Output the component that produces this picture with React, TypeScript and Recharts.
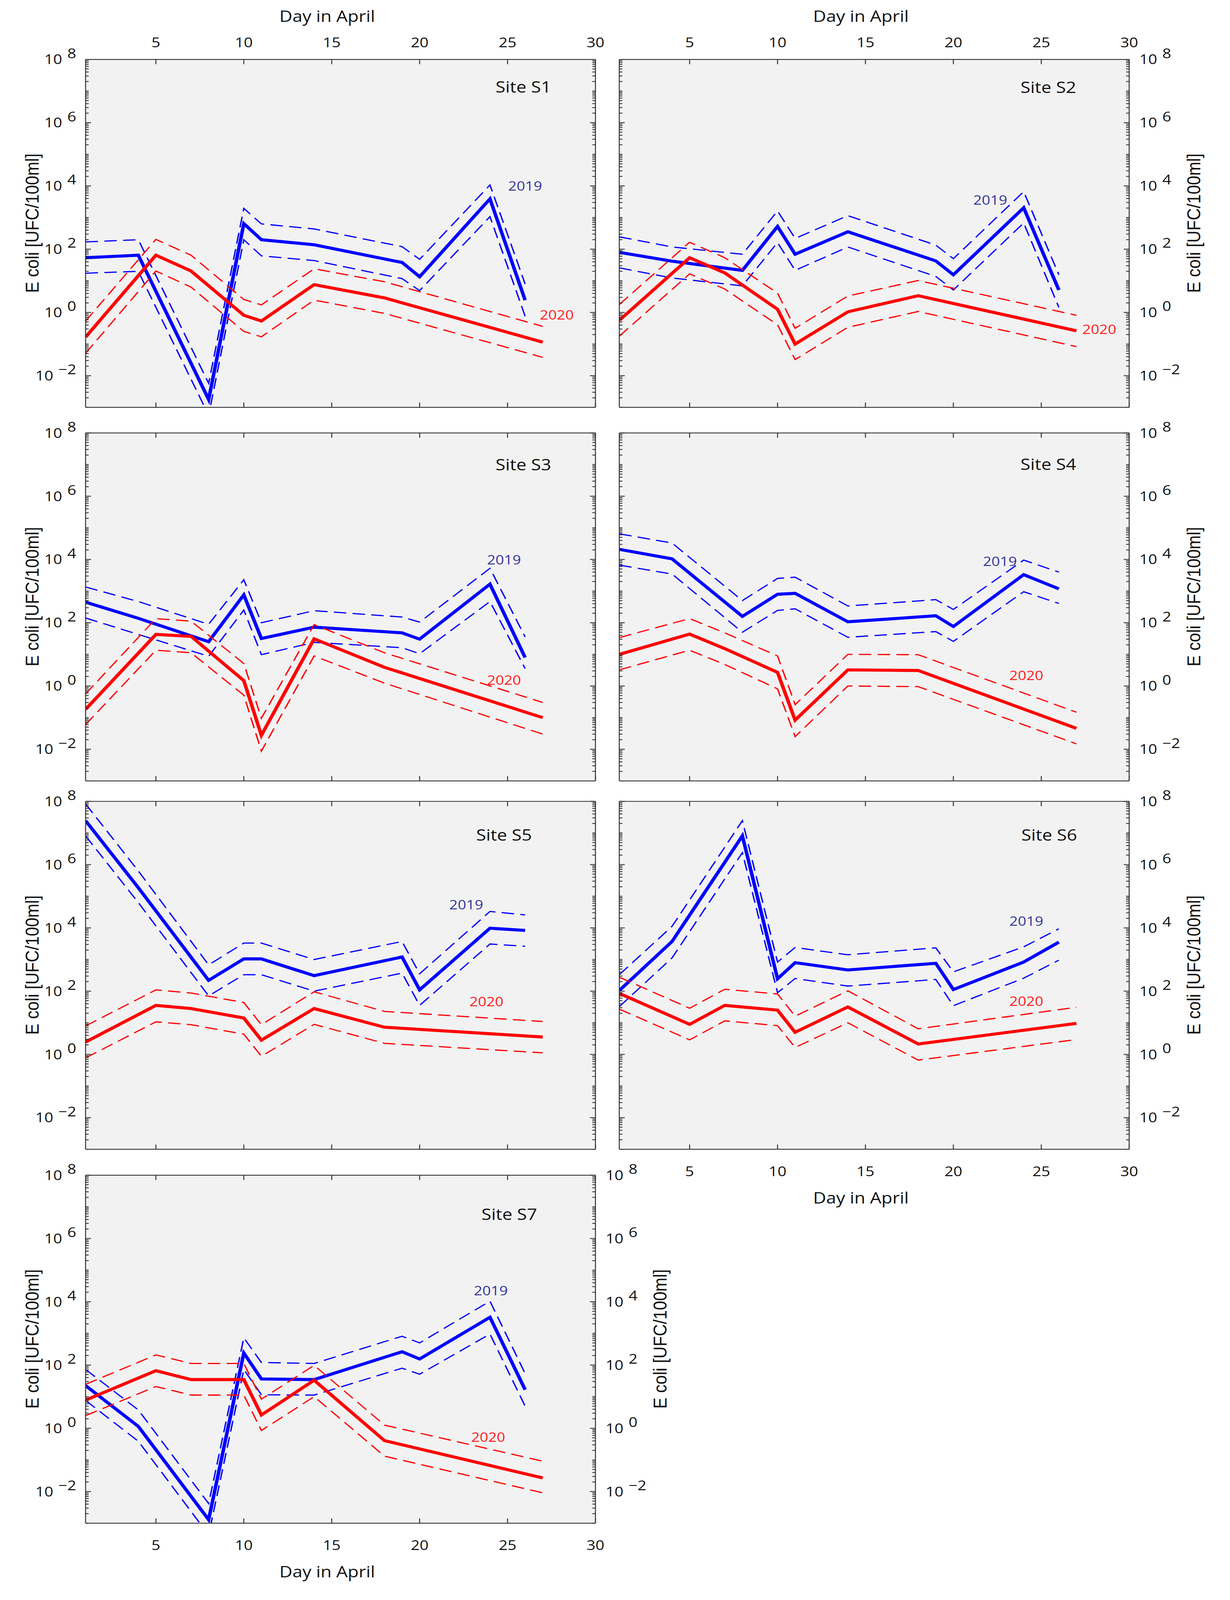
import React from 'react';
import { LineChart, Line, XAxis, YAxis, CartesianGrid, ReferenceDot, Label } from 'recharts';

// ---------- data (values are log10 of E. coli [UFC/100ml]) ----------
const DAYS_2019 = [1, 4, 8, 10, 11, 14, 19, 20, 24, 26];
const DAYS_2020 = [1, 5, 7, 10, 11, 14, 18, 27];

const X_TICKS = [5, 10, 15, 20, 25, 30];
const Y_DECADES = [-3, -2, -1, 0, 1, 2, 3, 4, 5, 6, 7];
const Y_MULTIPLIERS = [1, 2, 3, 4, 5, 6, 7, 8, 9];
const Y_TOP = 1e8;

const S1_2019 = [1.73, 1.81, -2.75, 2.81, 2.3, 2.14, 1.58, 1.13, 3.59, 0.39];
const S1_2019_HI = [2.23, 2.3, -2.24, 3.29, 2.8, 2.64, 2.08, 1.68, 4.03, 0.9];
const S1_2019_LO = [1.24, 1.3, -3.25, 2.3, 1.79, 1.64, 1.07, 0.69, 3.03, -0.12];
const S1_2020 = [-0.78, 1.81, 1.31, -0.09, -0.27, 0.88, 0.46, -0.94];
const S1_2020_HI = [-0.27, 2.31, 1.81, 0.41, 0.24, 1.38, 0.97, -0.44];
const S1_2020_LO = [-1.29, 1.31, 0.8, -0.6, -0.77, 0.39, -0.03, -1.42];

const S2_2019 = [1.9, 1.62, 1.33, 2.72, 1.84, 2.55, 1.63, 1.19, 3.31, 0.71];
const S2_2019_HI = [2.39, 2.07, 1.84, 3.21, 2.34, 3.06, 2.13, 1.7, 3.82, 1.19];
const S2_2019_LO = [1.41, 1.09, 0.84, 2.21, 1.33, 2.07, 1.14, 0.71, 2.83, 0.16];
const S2_2020 = [-0.25, 1.73, 1.25, 0.1, -1.0, 0.02, 0.53, -0.58];
const S2_2020_HI = [0.25, 2.22, 1.73, 0.61, -0.5, 0.52, 1.01, -0.09];
const S2_2020_LO = [-0.75, 1.22, 0.74, -0.39, -1.49, -0.47, 0.03, -1.08];

const S3_2019 = [2.65, 2.14, 1.4, 2.88, 1.5, 1.86, 1.68, 1.48, 3.22, 0.9];
const S3_2019_HI = [3.13, 2.67, 1.95, 3.36, 2.0, 2.38, 2.18, 2.02, 3.72, 1.55];
const S3_2019_LO = [2.15, 1.63, 0.94, 2.4, 0.99, 1.38, 1.21, 1.02, 2.67, 0.55];
const S3_2020 = [-0.74, 1.63, 1.57, 0.17, -1.56, 1.49, 0.59, -1.0];
const S3_2020_HI = [-0.25, 2.13, 2.05, 0.71, -1.02, 1.94, 1.05, -0.52];
const S3_2020_LO = [-1.22, 1.13, 1.05, -0.29, -2.06, 0.95, 0.09, -1.52];

const S4_2019 = [4.32, 4.02, 2.2, 2.9, 2.93, 2.03, 2.22, 1.88, 3.52, 3.07];
const S4_2019_HI = [4.81, 4.52, 2.7, 3.4, 3.44, 2.53, 2.73, 2.42, 3.98, 3.6];
const S4_2019_LO = [3.82, 3.54, 1.7, 2.39, 2.44, 1.54, 1.72, 1.41, 2.98, 2.61];
const S4_2020 = [1.0, 1.64, 1.18, 0.43, -1.08, 0.51, 0.49, -1.34];
const S4_2020_HI = [1.53, 2.13, 1.68, 0.95, -0.59, 1.0, 0.99, -0.83];
const S4_2020_LO = [0.51, 1.13, 0.68, -0.09, -1.6, 0.0, -0.02, -1.83];

const S5_2019 = [7.39, 5.27, 2.34, 3.02, 3.02, 2.49, 3.08, 2.04, 3.99, 3.92];
const S5_2019_HI = [7.92, 5.8, 2.83, 3.52, 3.52, 3.0, 3.57, 2.55, 4.52, 4.41];
const S5_2019_LO = [6.91, 4.8, 1.85, 2.52, 2.52, 2.0, 2.57, 1.55, 3.49, 3.42];
const S5_2020 = [0.39, 1.55, 1.45, 1.15, 0.45, 1.45, 0.86, 0.55];
const S5_2020_HI = [0.9, 2.04, 1.94, 1.64, 0.94, 1.98, 1.36, 1.04];
const S5_2020_LO = [-0.11, 1.03, 0.94, 0.64, -0.06, 0.95, 0.35, 0.05];

const S6_2019 = [2.02, 3.57, 6.91, 2.39, 2.9, 2.67, 2.88, 2.05, 2.92, 3.55];
const S6_2019_HI = [2.52, 4.05, 7.39, 2.92, 3.38, 3.15, 3.37, 2.61, 3.4, 3.97];
const S6_2019_LO = [1.51, 3.05, 6.38, 1.95, 2.4, 2.16, 2.37, 1.54, 2.41, 2.98];
const S6_2020 = [1.93, 0.95, 1.55, 1.4, 0.7, 1.5, 0.33, 0.98];
const S6_2020_HI = [2.44, 1.46, 2.06, 1.91, 1.21, 2.01, 0.81, 1.49];
const S6_2020_LO = [1.43, 0.46, 1.06, 0.91, 0.22, 1.0, -0.18, 0.47];

const S7_2019 = [1.35, 0.06, -2.89, 2.38, 1.56, 1.54, 2.42, 2.19, 3.51, 1.22];
const S7_2019_HI = [1.86, 0.58, -2.38, 2.86, 2.08, 2.05, 2.91, 2.7, 4.02, 1.73];
const S7_2019_LO = [0.88, -0.41, -3.37, 1.86, 1.06, 1.05, 1.9, 1.71, 2.98, 0.7];
const S7_2020 = [0.89, 1.82, 1.54, 1.54, 0.42, 1.52, -0.39, -1.57];
const S7_2020_HI = [1.39, 2.32, 2.05, 2.05, 0.92, 1.99, 0.1, -1.04];
const S7_2020_LO = [0.4, 1.32, 1.05, 1.05, -0.07, 1.0, -0.88, -2.04];

const SITE_NAMES = ['Site S1', 'Site S2', 'Site S3', 'Site S4', 'Site S5', 'Site S6', 'Site S7'];

// ---------- layout & style ----------
const FIG_W = 3148;
const FIG_H = 4686;
const PW = 1305;
const PH = 1019;
const MX = 215;
const MY = 195;
const AX = 1;
const COL_X = [219, 1585];
const ROW_Y = [174, 1268, 2347, 3442];
const FONT = "'Open Sans', 'Noto Sans', sans-serif";
const YTITLE_FONT = "'Liberation Sans', Arial, sans-serif";
const AXIS_COLOR = '#333333';
const BLUE = '#0000ff';
const RED = '#ff0000';
const BLUE_TEXT = '#33339a';
const RED_TEXT = '#ff1a1a';

const Y_TICKS: number[] = [];
Y_DECADES.forEach((e) => Y_MULTIPLIERS.forEach((m) => Y_TICKS.push(m * Math.pow(10, e))));
Y_TICKS.push(Y_TOP);

type Panel = {
  idx: number;
  col: number;
  row: number;
  b: number[][];
  r: number[][];
  topX: boolean;
  bottomX: boolean;
  leftY: boolean;
  rightY: boolean;
  site: [number, number];
  l19: [number, number];
  l20: [number, number];
};

const PANELS: Panel[] = [
  { idx: 0, col: 0, row: 0, b: [S1_2019, S1_2019_HI, S1_2019_LO], r: [S1_2020, S1_2020_HI, S1_2020_LO], topX: true, bottomX: false, leftY: true, rightY: false, site: [25.9, 7.13], l19: [26.0, 4.0], l20: [27.8, -0.08] },
  { idx: 1, col: 1, row: 0, b: [S2_2019, S2_2019_HI, S2_2019_LO], r: [S2_2020, S2_2020_HI, S2_2020_LO], topX: true, bottomX: false, leftY: false, rightY: true, site: [25.4, 7.11], l19: [22.1, 3.55], l20: [28.3, -0.53] },
  { idx: 2, col: 0, row: 1, b: [S3_2019, S3_2019_HI, S3_2019_LO], r: [S3_2020, S3_2020_HI, S3_2020_LO], topX: false, bottomX: false, leftY: true, rightY: false, site: [25.9, 7.0], l19: [24.8, 3.99], l20: [24.8, 0.18] },
  { idx: 3, col: 1, row: 1, b: [S4_2019, S4_2019_HI, S4_2019_LO], r: [S4_2020, S4_2020_HI, S4_2020_LO], topX: false, bottomX: false, leftY: false, rightY: true, site: [25.4, 7.01], l19: [22.65, 3.94], l20: [24.15, 0.33] },
  { idx: 4, col: 0, row: 2, b: [S5_2019, S5_2019_HI, S5_2019_LO], r: [S5_2020, S5_2020_HI, S5_2020_LO], topX: false, bottomX: false, leftY: true, rightY: false, site: [24.8, 6.94], l19: [22.65, 4.73], l20: [23.8, 1.67] },
  { idx: 5, col: 1, row: 2, b: [S6_2019, S6_2019_HI, S6_2019_LO], r: [S6_2020, S6_2020_HI, S6_2020_LO], topX: false, bottomX: true, leftY: false, rightY: true, site: [25.45, 6.93], l19: [24.15, 4.21], l20: [24.15, 1.68] },
  { idx: 6, col: 0, row: 3, b: [S7_2019, S7_2019_HI, S7_2019_LO], r: [S7_2020, S7_2020_HI, S7_2020_LO], topX: false, bottomX: true, leftY: true, rightY: true, site: [25.1, 6.76], l19: [24.05, 4.35], l20: [23.9, -0.28] },
];

const toRows = (days: number[], logs: number[]) => days.map((d, i) => ({ day: d, v: Math.pow(10, logs[i]) }));

const makeYTick = (side: 'left' | 'right', showLabel: boolean) => (props: any) => {
  const { x, y, payload } = props;
  const v = payload.value;
  const k = Math.round(Math.log10(v));
  const isDecade = Math.abs(v / Math.pow(10, k) - 1) < 1e-6;
  const major = isDecade && k % 2 === 0;
  const len = major ? 14 : 8;
  const dir = side === 'left' ? 1 : -1;
  return (
    <g>
      <line x1={x} y1={y} x2={x + dir * len} y2={y} stroke={AXIS_COLOR} strokeWidth={2.5} />
      {major && showLabel ? (
        <text
          x={side === 'left' ? x - 24 : x + 26}
          y={y + 14}
          textAnchor={side === 'left' ? 'end' : 'start'}
          fontSize={40}
          fontFamily={FONT}
          fill="#111"
        >
          10
          <tspan dx={13} dy={-18}>{k < 0 ? `\u2212${-k}` : `${k}`}</tspan>
        </text>
      ) : null}
    </g>
  );
};

const makeXTick = (side: 'top' | 'bottom', showLabel: boolean) => (props: any) => {
  const { x, y, payload } = props;
  const dir = side === 'top' ? 1 : -1;
  return (
    <g>
      <line x1={x} y1={y} x2={x} y2={y + dir * 14} stroke={AXIS_COLOR} strokeWidth={2.5} />
      {showLabel ? (
        <text x={x} y={side === 'top' ? y - 35 : y + 79} textAnchor="middle" fontSize={40} fontFamily={FONT} fill="#111">
          {payload.value}
        </text>
      ) : null}
    </g>
  );
};

const xTitle = (side: 'top' | 'bottom') => (props: any) => {
  const vb = props.viewBox;
  if (!vb) return null;
  const cx = vb.x + vb.width / 2 - 34;
  const cy = side === 'top' ? vb.y + (vb.height || 0) - 110 : vb.y + 159;
  return (
    <text x={cx} y={cy} textAnchor="middle" fontSize={46} fontFamily={FONT} fill="#111">
      Day in April
    </text>
  );
};

const yTitle = (side: 'left' | 'right') => (props: any) => {
  const vb = props.viewBox;
  if (!vb) return null;
  const cx = side === 'left' ? vb.x + (vb.width || 0) - 137 : vb.x + 165;
  const cy = vb.y + vb.height / 2 - 30;
  return (
    <text
      x={cx}
      y={cy}
      transform={`rotate(-90 ${cx} ${cy})`}
      textAnchor="middle"
      dominantBaseline="central"
      fontSize={49}
      fontFamily={YTITLE_FONT}
      fill="#111"
    >
      E coli [UFC/100ml]
    </text>
  );
};

const axisLine = { stroke: AXIS_COLOR, strokeWidth: 2.5 };

function PanelChart({ p }: { p: Panel }) {
  const left = COL_X[p.col] - MX;
  const top = ROW_Y[p.row] - MY;
  const blueRows = p.b.map((s) => toRows(DAYS_2019, s));
  const redRows = p.r.map((s) => toRows(DAYS_2020, s));
  const dash = '32 16';
  return (
    <div style={{ position: 'absolute', left, top }}>
      <LineChart
        width={PW + 2 * MX}
        height={PH + 2 * MY}
        margin={{ top: MY - AX, right: MX - AX, bottom: MY - AX, left: MX - AX }}
      >
        <CartesianGrid fill="#f2f2f2" horizontal={false} vertical={false} />
        <XAxis dataKey="day" type="number" domain={[1, 30]} ticks={X_TICKS} interval={0} allowDataOverflow height={AX} tickSize={0} tickMargin={0} tickLine={false} axisLine={axisLine} tick={makeXTick('bottom', p.bottomX)} label={p.bottomX ? <Label content={xTitle('bottom')} /> : undefined} />
        <XAxis xAxisId="top" orientation="top" dataKey="day" type="number" domain={[1, 30]} ticks={X_TICKS} interval={0} allowDataOverflow height={AX} tickSize={0} tickMargin={0} tickLine={false} axisLine={axisLine} tick={makeXTick('top', p.topX)} label={p.topX ? <Label content={xTitle('top')} /> : undefined} />
        <YAxis type="number" scale="log" domain={[1e-3, 1e8]} ticks={Y_TICKS} interval={0} allowDataOverflow width={AX} tickSize={0} tickMargin={0} tickLine={false} axisLine={axisLine} tick={makeYTick('left', p.leftY)} label={p.leftY ? <Label content={yTitle('left')} /> : undefined} />
        <YAxis yAxisId="right" orientation="right" type="number" scale="log" domain={[1e-3, 1e8]} ticks={Y_TICKS} interval={0} allowDataOverflow width={AX} tickSize={0} tickMargin={0} tickLine={false} axisLine={axisLine} tick={makeYTick('right', p.rightY)} label={p.rightY ? <Label content={yTitle('right')} /> : undefined} />
        <Line data={blueRows[1]} dataKey="v" stroke={BLUE} strokeWidth={3.5} strokeDasharray={dash} dot={false} activeDot={false} isAnimationActive={false} />
        <Line data={blueRows[2]} dataKey="v" stroke={BLUE} strokeWidth={3.5} strokeDasharray={dash} dot={false} activeDot={false} isAnimationActive={false} />
        <Line data={blueRows[0]} dataKey="v" stroke={BLUE} strokeWidth={9} dot={false} activeDot={false} isAnimationActive={false} />
        <Line data={redRows[1]} dataKey="v" stroke={RED} strokeWidth={3.5} strokeDasharray={dash} dot={false} activeDot={false} isAnimationActive={false} />
        <Line data={redRows[2]} dataKey="v" stroke={RED} strokeWidth={3.5} strokeDasharray={dash} dot={false} activeDot={false} isAnimationActive={false} />
        <Line data={redRows[0]} dataKey="v" stroke={RED} strokeWidth={9} dot={false} activeDot={false} isAnimationActive={false} />
        <ReferenceDot x={p.site[0]} y={Math.pow(10, p.site[1])} r={0} fill="none" stroke="none" label={{ value: SITE_NAMES[p.idx], position: 'center', fontSize: 46, fontFamily: FONT, fill: '#111' }} />
        <ReferenceDot x={p.l19[0]} y={Math.pow(10, p.l19[1])} r={0} fill="none" stroke="none" label={{ value: '2019', position: 'center', fontSize: 38, fontFamily: FONT, fill: BLUE_TEXT }} />
        <ReferenceDot x={p.l20[0]} y={Math.pow(10, p.l20[1])} r={0} fill="none" stroke="none" label={{ value: '2020', position: 'center', fontSize: 38, fontFamily: FONT, fill: RED_TEXT }} />
      </LineChart>
    </div>
  );
}

export default function App() {
  // The browser window may be shorter than the figure; fit the figure to the visible height.
  const viewH = typeof window !== 'undefined' && window.innerHeight ? window.innerHeight : FIG_H;
  const sy = Math.min(1, viewH / FIG_H);
  return (
    <div style={{ position: 'relative', margin: -8, width: FIG_W, height: Math.floor(FIG_H * sy), overflow: 'hidden', background: '#fff' }}>
      <div
        style={{
          position: 'absolute',
          left: 0,
          top: 0,
          width: FIG_W,
          height: FIG_H,
          transform: `scaleY(${sy})`,
          transformOrigin: '0 0',
        }}
      >
        {PANELS.map((p) => (
          <PanelChart key={p.idx} p={p} />
        ))}
      </div>
    </div>
  );
}
